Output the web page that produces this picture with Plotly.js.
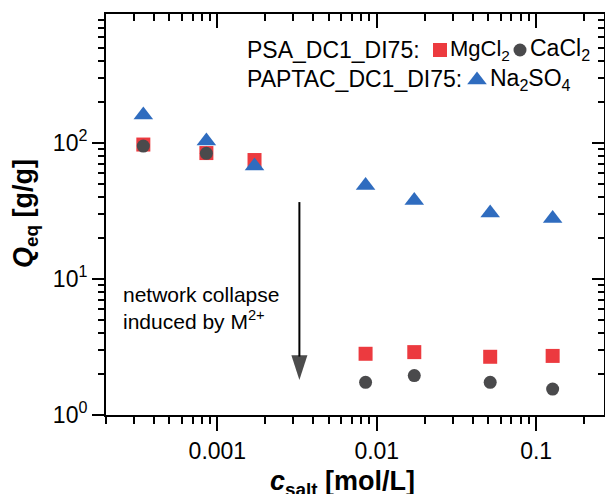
<!DOCTYPE html>
<html>
<head>
<meta charset="utf-8">
<script src="https://cdn.plot.ly/plotly-3.0.1.min.js"></script>
<style>html,body{margin:0;padding:0;background:#fff;}#chart{width:605px;height:494px;}</style>
</head>
<body>
<div id="chart"></div>
<script>
// ---- data ----
const cSalt   = [0.000343, 0.000853, 0.00171, 0.00851, 0.0172, 0.0515, 0.127];
const qMgCl2  = [97.5, 84.4, 75.0, 2.82, 2.90, 2.68, 2.72];
const qCaCl2  = [95.0, 84.0, null, 1.74, 1.95, 1.74, 1.55];
const qNa2SO4 = [161, 103.5, 67.7, 48.7, 37.8, 30.6, 27.9];

const xTickVals = [0.001, 0.01, 0.1];
const xTickText = ['0.001', '0.01', '0.1'];
const yTickVals = [1, 10, 100];
const yTickText = ['10<sup>0</sup>', '10<sup>1</sup>', '10<sup>2</sup>'];

const arrowX = [0.00327, 0.00327];
const arrowY = [36.8, 1.81];

const names = ['MgCl<sub>2</sub>', 'CaCl<sub>2</sub>', 'Na<sub>2</sub>SO<sub>4</sub>'];
const groupLabels = ['PSA_DC1_DI75:', 'PAPTAC_DC1_DI75:'];
const noteText = 'network collapse<br>induced by M<sup>2+</sup>';
const xTitle = '<b><i>c</i><sub>salt</sub> [mol/L]</b>';
const yTitle = '<b><i>Q</i><sub>eq</sub> [g/g]</b>';

// ---- styles ----
const RED = '#ec3a3f', GREY = '#4a4a4c', BLUE = '#2f6cbf';
const FONT = 'Liberation Sans, Arial, sans-serif';

// plot-area pixel frame (used only to place the non-data texts)
const PL = 106, PR = 604, PT = 14, PB = 415;
const px = v => (v - PL) / (PR - PL);
const py = v => (PB - v) / (PB - PT);

// minor tick positions (2..9 per decade)
function minorTicks(lo, hi) {
  const out = [];
  for (let e = lo; e <= hi; e++) for (let m = 2; m <= 9; m++) out.push(m * Math.pow(10, e));
  return out;
}
const xMinor = minorTicks(-4, -1);
const yMinor = minorTicks(0, 2);

const xRange = [Math.log10(2e-4), -0.574];
const yRange = [0, 2.949];

const traces = [
  {x: cSalt, y: qMgCl2, type: 'scatter', mode: 'markers', name: 'MgCl2',
   marker: {symbol: 'square', size: 14, color: RED, line: {width: 0}}},
  {x: cSalt, y: qCaCl2, type: 'scatter', mode: 'markers', name: 'CaCl2',
   marker: {symbol: 'circle', size: 13, color: GREY, line: {width: 0}}},
  {x: cSalt, y: qNa2SO4, type: 'scatter', mode: 'markers', name: 'Na2SO4',
   marker: {symbol: 'triangle-up', size: 17, color: BLUE, line: {width: 0}}},
  {x: arrowX, y: arrowY, type: 'scatter', mode: 'lines+markers', hoverinfo: 'skip',
   line: {color: '#000', width: 2},
   marker: {symbol: 'arrow', angleref: 'previous', size: [0, 26], color: '#000', line: {width: 0}}},
  // empty trace to create the mirrored (top/right) axes with inward ticks
  {x: [], y: [], type: 'scatter', xaxis: 'x2', yaxis: 'y2', hoverinfo: 'skip'},
  // legend swatches in pixel-space overlay axes
  {x: [440], y: [50], type: 'scatter', mode: 'markers', xaxis: 'x3', yaxis: 'y3', hoverinfo: 'skip', cliponaxis: false,
   marker: {symbol: 'square', size: 14, color: RED}},
  {x: [520], y: [50], type: 'scatter', mode: 'markers', xaxis: 'x3', yaxis: 'y3', hoverinfo: 'skip', cliponaxis: false,
   marker: {symbol: 'circle', size: 13, color: GREY}},
  {x: [477], y: [80], type: 'scatter', mode: 'markers', xaxis: 'x3', yaxis: 'y3', hoverinfo: 'skip', cliponaxis: false,
   marker: {symbol: 'triangle-up', size: 17, color: BLUE}}
];

const axBase = {
  type: 'log', showgrid: false, zeroline: false, showline: true,
  linecolor: '#000', linewidth: 2, tickcolor: '#000', tickwidth: 2
};

const layout = {
  width: 605, height: 494,
  margin: {l: 106, r: 1, t: 14, b: 79, pad: 0},
  paper_bgcolor: '#fff', plot_bgcolor: '#fff',
  showlegend: false,
  font: {family: FONT, color: '#000', size: 23},
  xaxis: Object.assign({}, axBase, {
    range: xRange, tickmode: 'array', tickvals: xTickVals, ticktext: xTickText,
    ticks: 'outside', ticklen: 14, ticklabelstandoff: 0,
    tickfont: {size: 23, family: FONT, color: '#000'},
    minor: {tickmode: 'array', tickvals: xMinor, ticks: 'outside', ticklen: 7, tickwidth: 2, tickcolor: '#000', showgrid: false}
  }),
  yaxis: Object.assign({}, axBase, {
    range: yRange, tickmode: 'array', tickvals: yTickVals, ticktext: yTickText,
    ticks: 'outside', ticklen: 12,
    tickfont: {size: 23, family: FONT, color: '#000'},
    minor: {tickmode: 'array', tickvals: yMinor, ticks: 'outside', ticklen: 6, tickwidth: 2, tickcolor: '#000', showgrid: false}
  }),
  xaxis2: Object.assign({}, axBase, {
    overlaying: 'x', anchor: 'y2', side: 'top', range: xRange,
    tickmode: 'array', tickvals: xTickVals, showticklabels: false, ticks: 'inside', ticklen: 14,
    minor: {tickmode: 'array', tickvals: xMinor, ticks: 'inside', ticklen: 7, tickwidth: 2, tickcolor: '#000', showgrid: false}
  }),
  yaxis2: Object.assign({}, axBase, {
    overlaying: 'y', anchor: 'x2', side: 'right', range: yRange,
    tickmode: 'array', tickvals: yTickVals, showticklabels: false, ticks: 'inside', ticklen: 12,
    minor: {tickmode: 'array', tickvals: yMinor, ticks: 'inside', ticklen: 6, tickwidth: 2, tickcolor: '#000', showgrid: false}
  }),
  xaxis3: {overlaying: 'x', anchor: 'y3', range: [PL, PR], visible: false, fixedrange: true},
  yaxis3: {overlaying: 'y', anchor: 'x3', range: [PB, PT], visible: false, fixedrange: true},
  annotations: [
    // legend texts
    {xref: 'paper', yref: 'paper', x: px(245), y: py(50), xanchor: 'left', yanchor: 'middle', showarrow: false,
     text: groupLabels[0], font: {size: 23}},
    {xref: 'paper', yref: 'paper', x: px(448), y: py(50), xanchor: 'left', yanchor: 'middle', showarrow: false,
     text: names[0], font: {size: 22}},
    {xref: 'paper', yref: 'paper', x: px(528), y: py(50), xanchor: 'left', yanchor: 'middle', showarrow: false,
     text: names[1], font: {size: 23}},
    {xref: 'paper', yref: 'paper', x: px(245), y: py(79), xanchor: 'left', yanchor: 'middle', showarrow: false,
     text: groupLabels[1], font: {size: 23}},
    {xref: 'paper', yref: 'paper', x: px(488), y: py(79), xanchor: 'left', yanchor: 'middle', showarrow: false,
     text: names[2], font: {size: 23}},
    // note
    {xref: 'paper', yref: 'paper', x: px(121), y: py(308), xanchor: 'left', yanchor: 'middle', align: 'left', showarrow: false,
     text: noteText, font: {size: 21}},
    // axis titles
    {xref: 'paper', yref: 'paper', x: px(342), y: py(464), xanchor: 'center', yanchor: 'top', showarrow: false,
     text: xTitle, font: {size: 27}},
    {xref: 'paper', yref: 'paper', x: px(25), y: py(214), xanchor: 'center', yanchor: 'middle', showarrow: false, textangle: -90,
     text: yTitle, font: {size: 27}}
  ]
};

Plotly.newPlot('chart', traces, layout, {staticPlot: true, displayModeBar: false});
</script>
</body>
</html>
